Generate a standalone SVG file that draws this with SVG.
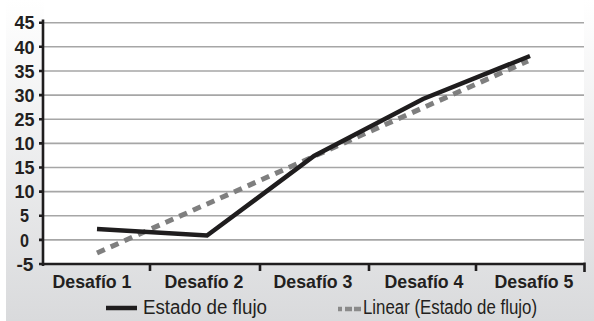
<svg xmlns="http://www.w3.org/2000/svg" width="594" height="321" viewBox="0 0 594 321">
<defs>
<linearGradient id="bg" x1="0" y1="0" x2="0" y2="1">
<stop offset="0" stop-color="#ffffff"/>
<stop offset="1" stop-color="#d9dadc"/>
</linearGradient>
<style>
.grid{stroke:#a6a6a6;stroke-width:1.6}
.axis{stroke:#1f1d1e;stroke-width:2.6;fill:none}
.ylab{font-family:"Liberation Sans",Arial,sans-serif;font-weight:bold;font-size:18.5px;fill:#231f20;text-anchor:middle}
.xlab{font-family:"Liberation Sans",Arial,sans-serif;font-weight:bold;font-size:18.5px;fill:#231f20;text-anchor:middle}
.leg{font-family:"Liberation Sans",Arial,sans-serif;font-size:20px;fill:#231f20}
.solid{stroke:#1f1d1e;stroke-width:4.5;fill:none;stroke-linejoin:miter}
.trend{stroke:#7f7f7f;stroke-width:5;fill:none;stroke-dasharray:8.5 6.5}
</style>
</defs>
<rect x="6" y="0" width="588" height="321" fill="url(#bg)"/>
<rect x="44" y="0" width="540" height="264" fill="#ffffff"/>
<g id="grid">
<line class="grid" x1="43" y1="22.7" x2="584" y2="22.7"/>
<line class="grid" x1="43" y1="46.8" x2="584" y2="46.8"/>
<line class="grid" x1="43" y1="71" x2="584" y2="71"/>
<line class="grid" x1="43" y1="95.1" x2="584" y2="95.1"/>
<line class="grid" x1="43" y1="119.2" x2="584" y2="119.2"/>
<line class="grid" x1="43" y1="143.4" x2="584" y2="143.4"/>
<line class="grid" x1="43" y1="167.5" x2="584" y2="167.5"/>
<line class="grid" x1="43" y1="191.6" x2="584" y2="191.6"/>
<line class="grid" x1="43" y1="215.7" x2="584" y2="215.7"/>
<line class="grid" x1="43" y1="239.9" x2="584" y2="239.9"/>
</g>
<g id="axes">
<path class="axis" d="M43,19.5 V266 M41,264 H585.5 M39,22.7 H43 M39,46.8 H43 M39,71 H43 M39,95.1 H43 M39,119.2 H43 M39,143.4 H43 M39,167.5 H43 M39,191.6 H43 M39,215.7 H43 M39,239.9 H43 M39,264 H43 M150,264 V271 M260,264 V271 M369,264 V271 M476,264 V271 M584.5,262.5 V272"/>
</g>
<g id="y-labels">
<text class="ylab" x="24.5" y="29.4" textLength="20" lengthAdjust="spacingAndGlyphs">45</text>
<text class="ylab" x="24.5" y="53.5" textLength="20" lengthAdjust="spacingAndGlyphs">40</text>
<text class="ylab" x="24.5" y="77.7" textLength="20" lengthAdjust="spacingAndGlyphs">35</text>
<text class="ylab" x="24.5" y="101.8" textLength="20" lengthAdjust="spacingAndGlyphs">30</text>
<text class="ylab" x="24.5" y="125.9" textLength="20" lengthAdjust="spacingAndGlyphs">25</text>
<text class="ylab" x="24.5" y="150.1" textLength="20" lengthAdjust="spacingAndGlyphs">10</text>
<text class="ylab" x="24.5" y="174.2" textLength="20" lengthAdjust="spacingAndGlyphs">15</text>
<text class="ylab" x="24.5" y="198.3" textLength="20" lengthAdjust="spacingAndGlyphs">10</text>
<text class="ylab" x="24.5" y="222.4" textLength="9" lengthAdjust="spacingAndGlyphs">5</text>
<text class="ylab" x="24.5" y="246.6" textLength="9" lengthAdjust="spacingAndGlyphs">0</text>
<text class="ylab" x="25" y="270.7" textLength="17" lengthAdjust="spacingAndGlyphs">-5</text>
</g>
<g id="x-labels">
<text class="xlab" x="92" y="288" textLength="79" lengthAdjust="spacingAndGlyphs">Desafío 1</text>
<text class="xlab" x="204" y="288" textLength="79" lengthAdjust="spacingAndGlyphs">Desafío 2</text>
<text class="xlab" x="313" y="288" textLength="79" lengthAdjust="spacingAndGlyphs">Desafío 3</text>
<text class="xlab" x="424" y="288" textLength="79" lengthAdjust="spacingAndGlyphs">Desafío 4</text>
<text class="xlab" x="534" y="288" textLength="79" lengthAdjust="spacingAndGlyphs">Desafío 5</text>
</g>
<g id="connectors">
<path id="trend" class="trend" d="M97,253 L528,61"/>
<path id="estado" class="solid" d="M97,229 L207,235.5 L314,156 L423,99 L530,56"/>
</g>
<g id="legend">
<line class="solid" x1="106" y1="308" x2="137" y2="308"/>
<text class="leg" x="143" y="314" textLength="124" lengthAdjust="spacingAndGlyphs">Estado de flujo</text>
<line x1="338" y1="309" x2="361" y2="309" stroke="#8a8a8a" stroke-width="4.5" stroke-dasharray="4 3 7 2 7"/>
<text class="leg" x="363" y="314" textLength="174" lengthAdjust="spacingAndGlyphs">Linear (Estado de flujo)</text>
</g>
</svg>
